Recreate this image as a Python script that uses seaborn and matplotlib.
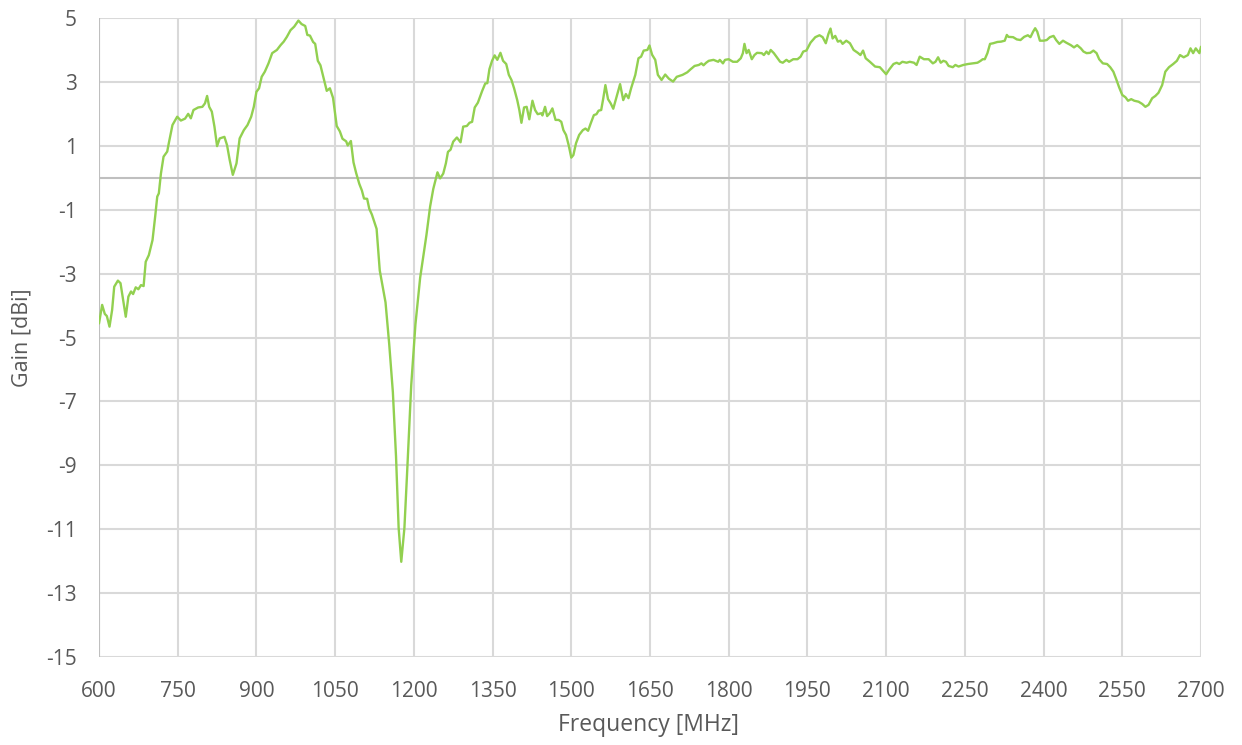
import matplotlib
matplotlib.use("Agg")
import matplotlib.pyplot as plt
import seaborn as sns
import pandas as pd

# values
freq_mhz = [
    600, 606, 611, 615, 620, 625, 629, 636, 641, 646, 651, 656, 661, 665, 670, 675, 680, 685, 689, 695,
    702, 707, 711, 714, 718, 723, 730, 733, 740, 749, 756, 764, 770, 775, 780, 789, 797, 802, 806, 810,
    815, 820, 825, 830, 839, 844, 849, 855, 862, 868, 876, 883, 890, 895, 900, 905, 910, 916, 923, 930,
    939, 946, 952, 958, 965, 972, 980, 986, 993, 997, 1002, 1008, 1012, 1017, 1022, 1028, 1034, 1040, 1046, 1053,
    1059, 1064, 1071, 1074, 1080, 1085, 1090, 1096, 1101, 1105, 1111, 1115, 1120, 1129, 1135, 1146, 1153, 1160, 1166, 1171,
    1176, 1182, 1187, 1195, 1203, 1212, 1218, 1224, 1231, 1237, 1245, 1250, 1256, 1261, 1265, 1270, 1275, 1282, 1289, 1294,
    1301, 1306, 1311, 1316, 1322, 1330, 1336, 1340, 1344, 1349, 1354, 1359, 1365, 1370, 1376, 1381, 1386, 1391, 1397, 1401,
    1405, 1410, 1415, 1420, 1426, 1431, 1436, 1443, 1445, 1450, 1454, 1459, 1464, 1470, 1476, 1481, 1485, 1490, 1495, 1500,
    1504, 1509, 1515, 1522, 1527, 1532, 1537, 1543, 1548, 1552, 1557, 1561, 1565, 1570, 1575, 1580, 1585, 1593, 1599, 1604,
    1609, 1614, 1622, 1628, 1633, 1638, 1645, 1649, 1654, 1660, 1665, 1672, 1679, 1686, 1694, 1701, 1712, 1721, 1727, 1735,
    1743, 1748, 1752, 1757, 1762, 1771, 1780, 1783, 1789, 1793, 1800, 1808, 1816, 1823, 1827, 1830, 1834, 1838, 1844, 1849,
    1854, 1863, 1867, 1872, 1876, 1880, 1886, 1898, 1903, 1910, 1915, 1923, 1931, 1937, 1942, 1948, 1956, 1965, 1973, 1979,
    1985, 1990, 1994, 1998, 2003, 2008, 2013, 2017, 2024, 2031, 2038, 2046, 2051, 2056, 2061, 2069, 2079, 2088, 2094, 2100,
    2106, 2114, 2120, 2125, 2131, 2139, 2145, 2153, 2158, 2164, 2172, 2181, 2189, 2194, 2199, 2204, 2209, 2214, 2219, 2227,
    2232, 2238, 2247, 2256, 2265, 2274, 2280, 2284, 2288, 2293, 2298, 2304, 2312, 2319, 2326, 2330, 2333, 2342, 2349, 2356,
    2363, 2370, 2375, 2380, 2384, 2388, 2393, 2400, 2406, 2412, 2419, 2424, 2430, 2437, 2443, 2452, 2458, 2464, 2471, 2476,
    2482, 2489, 2495, 2501, 2506, 2513, 2521, 2527, 2533, 2539, 2544, 2550, 2556, 2561, 2567, 2573, 2581, 2588, 2594, 2600,
    2607, 2613, 2619, 2626, 2632, 2639, 2647, 2654, 2660, 2667, 2675, 2680, 2685, 2690, 2697, 2700,
]
gain_dbi = [
    -4.56, -3.98, -4.26, -4.33, -4.66, -4.14, -3.41, -3.22, -3.30, -3.83, -4.35, -3.72, -3.56, -3.64, -3.43, -3.49, -3.36, -3.39, -2.63, -2.42,
    -1.95, -1.22, -0.59, -0.49, 0.13, 0.66, 0.82, 1.08, 1.65, 1.91, 1.79, 1.85, 2.00, 1.86, 2.12, 2.20, 2.22, 2.33, 2.56, 2.22,
    2.07, 1.60, 0.99, 1.23, 1.28, 1.02, 0.56, 0.09, 0.45, 1.23, 1.49, 1.65, 1.91, 2.22, 2.69, 2.80, 3.16, 3.32, 3.58, 3.90,
    4.00, 4.15, 4.26, 4.41, 4.62, 4.73, 4.92, 4.81, 4.75, 4.47, 4.45, 4.25, 4.19, 3.66, 3.52, 3.12, 2.72, 2.80, 2.50, 1.62,
    1.45, 1.22, 1.14, 1.01, 1.15, 0.48, 0.15, -0.19, -0.40, -0.65, -0.66, -0.97, -1.15, -1.60, -2.90, -3.90, -5.20, -6.71, -8.72, -10.96,
    -12.02, -10.96, -9.28, -6.49, -4.59, -3.13, -2.46, -1.79, -0.90, -0.35, 0.17, -0.02, 0.13, 0.45, 0.81, 0.88, 1.13, 1.26, 1.11, 1.60,
    1.62, 1.72, 1.75, 2.20, 2.35, 2.71, 2.95, 2.96, 3.40, 3.66, 3.83, 3.69, 3.91, 3.66, 3.56, 3.22, 3.06, 2.80, 2.43, 2.12,
    1.72, 2.20, 2.22, 1.83, 2.41, 2.12, 1.99, 2.02, 1.95, 2.22, 1.93, 2.02, 2.17, 1.81, 1.81, 1.75, 1.49, 1.34, 1.02, 0.63,
    0.71, 1.08, 1.34, 1.49, 1.54, 1.47, 1.70, 1.96, 1.99, 2.10, 2.12, 2.49, 2.90, 2.46, 2.33, 2.16, 2.46, 2.93, 2.43, 2.62,
    2.49, 2.80, 3.22, 3.74, 3.79, 3.98, 4.00, 4.14, 3.85, 3.69, 3.22, 3.06, 3.23, 3.10, 3.01, 3.16, 3.22, 3.30, 3.39, 3.50,
    3.53, 3.58, 3.52, 3.60, 3.66, 3.69, 3.63, 3.69, 3.58, 3.69, 3.71, 3.63, 3.63, 3.74, 3.90, 4.19, 3.90, 4.00, 3.71, 3.84,
    3.91, 3.90, 3.84, 3.95, 3.87, 4.00, 3.90, 3.63, 3.60, 3.69, 3.63, 3.71, 3.71, 3.79, 3.95, 3.98, 4.23, 4.40, 4.46, 4.40,
    4.21, 4.50, 4.67, 4.36, 4.44, 4.26, 4.29, 4.19, 4.29, 4.21, 4.00, 3.91, 3.84, 3.98, 3.74, 3.63, 3.48, 3.46, 3.35, 3.24,
    3.39, 3.56, 3.60, 3.56, 3.63, 3.60, 3.63, 3.60, 3.53, 3.79, 3.71, 3.71, 3.58, 3.63, 3.77, 3.60, 3.66, 3.63, 3.50, 3.46,
    3.53, 3.48, 3.53, 3.56, 3.58, 3.60, 3.66, 3.71, 3.71, 3.90, 4.19, 4.21, 4.25, 4.26, 4.29, 4.47, 4.41, 4.40, 4.33, 4.31,
    4.41, 4.46, 4.40, 4.57, 4.68, 4.57, 4.29, 4.29, 4.31, 4.40, 4.44, 4.31, 4.19, 4.29, 4.23, 4.15, 4.08, 4.15, 4.05, 3.95,
    3.90, 3.91, 3.98, 3.90, 3.71, 3.58, 3.56, 3.46, 3.32, 3.06, 2.83, 2.59, 2.52, 2.41, 2.46, 2.41, 2.38, 2.31, 2.22, 2.28,
    2.49, 2.56, 2.66, 2.90, 3.32, 3.46, 3.56, 3.66, 3.84, 3.77, 3.84, 4.05, 3.90, 4.05, 3.90, 4.10,
]
x_ticks = list(range(600, 2701, 150))
y_ticks = list(range(-15, 6, 2))

df = pd.DataFrame({"freq": freq_mhz, "gain": gain_dbi})

sns.set_theme(style="white")
plt.rcParams["font.family"] = ["Open Sans", "DejaVu Sans"]
plt.rcParams["axes.unicode_minus"] = False

text_color = "#595959"
grid_color = "#d9d9d9"
axis_color = "#bfbfbf"

fig = plt.figure(figsize=(12.42, 7.45), dpi=100)
ax = fig.add_axes([99 / 1242, 1 - 657 / 745, 1102 / 1242, 639 / 745])

# gridlines drawn by hand so the zero line and left axis can be darker
for xv in x_ticks:
    ax.axvline(xv, color=grid_color, lw=1.5, zorder=0)
for yv in y_ticks:
    ax.axhline(yv, color=grid_color, lw=1.5, zorder=0)
ax.axhline(0, color=axis_color, lw=1.5, zorder=1)
ax.axvline(600, color=axis_color, lw=1.5, zorder=1)

sns.lineplot(data=df, x="freq", y="gain", ax=ax, color="#92d050", lw=1.7, zorder=3)

ax.set_xlim(600, 2700)
ax.set_ylim(-15, 5)
ax.set_xticks(x_ticks)
ax.set_yticks(y_ticks)
for s in ax.spines.values():
    s.set_visible(False)
ax.tick_params(axis="both", length=0, labelsize=15, colors=text_color)
ax.tick_params(axis="x", pad=17)
ax.tick_params(axis="y", pad=16)

ax.set_xlabel("Frequency [MHz]", fontsize=16.5, color=text_color, va="center")
ax.set_ylabel("Gain [dBi]", fontsize=15.5, color=text_color, va="center")
ax.xaxis.set_label_coords((649 - 99) / 1102, (657 - 725) / 639)
ax.yaxis.set_label_coords((22 - 99) / 1102, 0.5)

fig.savefig("out.png", dpi=100)
